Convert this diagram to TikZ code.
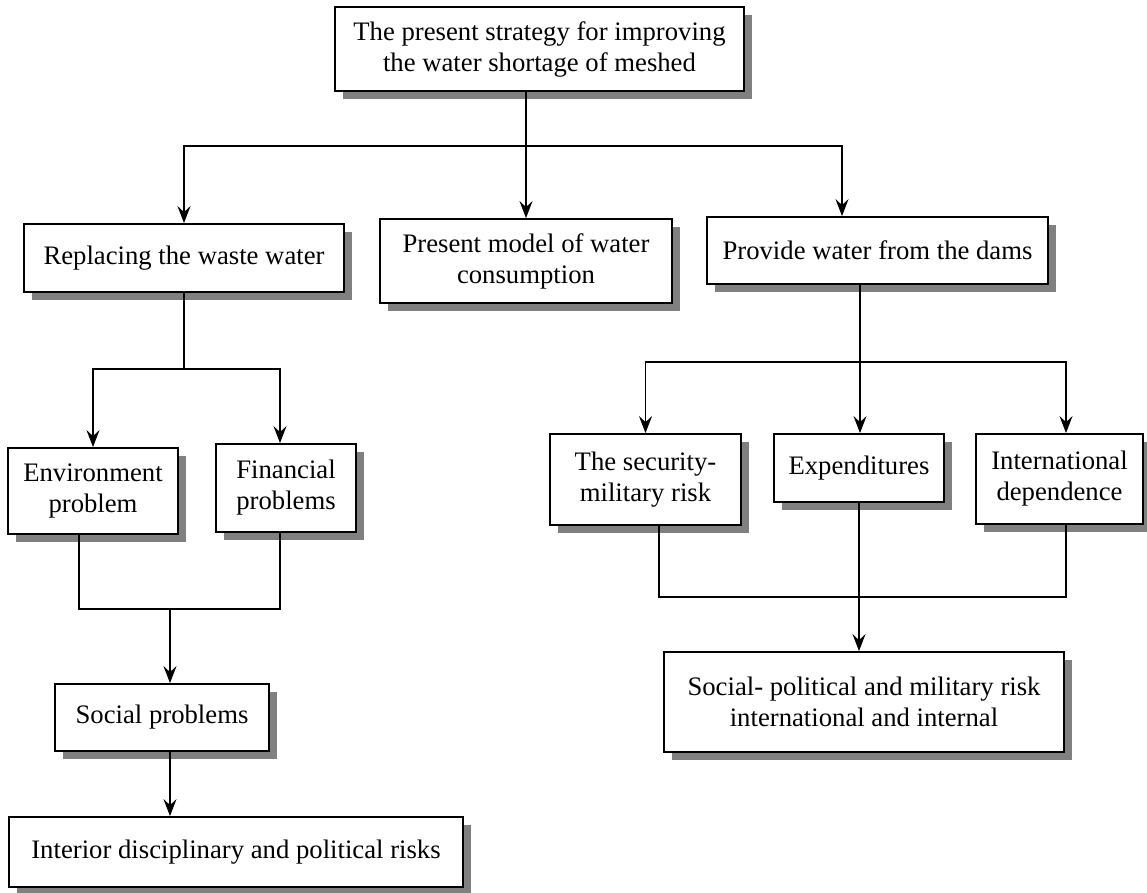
\documentclass[tikz,border=0pt]{standalone}
\usepackage{fontspec}
\setmainfont{Liberation Serif}
\usetikzlibrary{arrows.meta,shadows}
\begin{document}
\begin{tikzpicture}[x=1pt,y=-1pt,
  box/.style={draw, line width=1.8pt, fill=white, inner sep=0pt, align=center,
    font=\fontsize{26.7}{31}\selectfont,
    drop shadow={shadow xshift=8pt, shadow yshift=-8pt, fill=black!50, opacity=1, draw=none}},
  conn/.style={line width=1.5pt},
  arr/.style={conn, -{Stealth[length=17pt,width=13pt,inset=6pt]}}]
\useasboundingbox (0,0) rectangle (1147,893);

% nodes
\node[box, minimum width=409pt, minimum height=84pt] (top) at (539.5,49) {The present strategy for improving\\the water shortage of meshed};
\node[box, minimum width=320pt, minimum height=68pt] (rep) at (184,258) {Replacing the waste water};
\node[box, minimum width=292pt, minimum height=84pt] (pres) at (526,261) {Present model of water\\consumption};
\node[box, minimum width=341pt, minimum height=67pt] (prov) at (877.5,250.5) {Provide water from the dams};
\node[box, minimum width=170pt, minimum height=86pt] (env) at (93,491) {Environment\\problem};
\node[box, minimum width=140pt, minimum height=88pt] (fin) at (286,488) {Financial\\problems};
\node[box, minimum width=191pt, minimum height=91pt] (sec) at (645.5,479.5) {The security-\\military risk};
\node[box, minimum width=170pt, minimum height=68pt] (exp) at (859,468) {Expenditures};
\node[box, minimum width=167pt, minimum height=90pt] (intl) at (1059.5,479) {International\\dependence};
\node[box, minimum width=214pt, minimum height=67pt] (soc) at (162,717.5) {Social problems};
\node[box, minimum width=400pt, minimum height=100pt] (sp) at (864,702) {Social- political and military risk\\international and internal};
\node[box, minimum width=454pt, minimum height=70pt] (intr) at (236,852) {Interior disciplinary and political risks};

% top level
\coordinate (j1) at (526,146);
\coordinate (xa) at (842,146);
\draw[conn] (top.south -| j1) -- (j1);
\draw[arr] (j1) -| (rep.north);
\draw[arr] (j1) -- (pres.north);
\draw[arr] (j1) -- (xa) -- (xa |- prov.north);

% right branch
\coordinate (j2) at (860,362);
\coordinate (xb) at (1066,362);
\draw[conn] (prov.south -| j2) -- (j2);
\draw[arr] (j2) -| (sec.north);
\draw[arr] (j2) -- (j2 |- exp.north);
\draw[arr] (j2) -- (xb) -- (xb |- intl.north);
\coordinate (b1) at (659,597);
\coordinate (b2) at (1066,597);
\draw[conn] (b1 |- sec.south) -- (b1) -- (b2) -- (b2 |- intl.south);
\draw[arr] (exp.south) -- (exp.south |- sp.north);

% left branch
\coordinate (j3) at (184,369);
\coordinate (xc) at (280,369);
\draw[conn] (rep.south) -- (j3);
\draw[arr] (j3) -| (env.north);
\draw[arr] (j3) -- (xc) -- (xc |- fin.north);
\coordinate (c1) at (79,609);
\coordinate (c2) at (280,609);
\coordinate (c3) at (170,609);
\draw[conn] (c1 |- env.south) -- (c1) -- (c2) -- (c2 |- fin.south);
\draw[arr] (c3) -- (c3 |- soc.north);
\draw[arr] (c3 |- soc.south) -- (c3 |- intr.north);
\end{tikzpicture}
\end{document}
